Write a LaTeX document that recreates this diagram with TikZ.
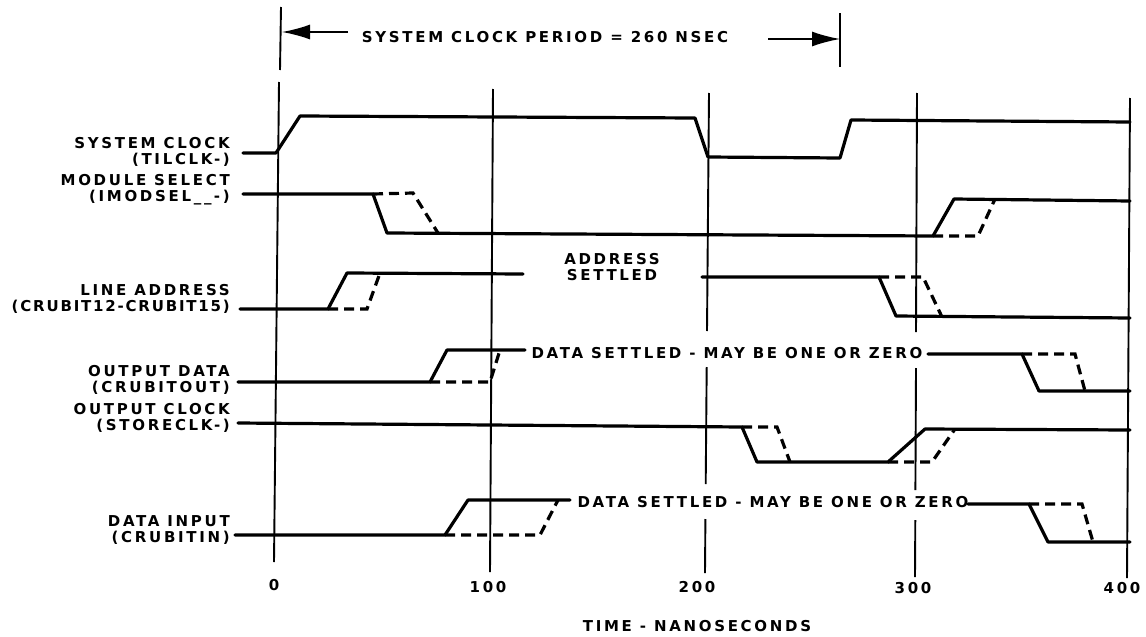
\documentclass[tikz,border=0pt]{standalone}
\usepackage{fontspec}
\newfontfamily\lbl[LetterSpace=18]{DejaVu Sans}
\newfontfamily\lbltight[LetterSpace=12]{DejaVu Sans}
\usetikzlibrary{arrows.meta}
\begin{document}
\begin{tikzpicture}[x=1pt,y=-1pt,
  wave/.style={line width=3.2pt, line join=round, line cap=round},
  dwave/.style={line width=3.2pt, dash pattern=on 10pt off 6pt},
  gridl/.style={line width=1.9pt},
  txt/.style={font=\lbl\bfseries\fontsize{15}{16}\selectfont, inner sep=0pt},
  sig/.style={txt, align=right, anchor=east},
  tip/.style={-{Latex[length=28pt,width=15pt]}, line width=1.6pt}]
\useasboundingbox (0,0) rectangle (1146,637);

% ---- grid lines
\draw[gridl] (281,7) -- (280,70);
\draw[gridl] (279,82) -- (274,562);
\draw[gridl] (493,89) -- (490,572);
\draw[gridl] (709,93) -- (707,331);
\draw[gridl] (706.7,367) -- (705.7,484);
\draw[gridl] (705.4,519) -- (705,573);
\draw[gridl] (917,93) -- (916,332);
\draw[gridl] (916,368) -- (915.4,490);
\draw[gridl] (915.3,520) -- (915,577);
\draw[gridl] (1130,98) -- (1127,578);
\draw[gridl] (840,13) -- (840,67);

% ---- period arrow
\node[txt] (period) at (545,37) {SYSTEM CLOCK PERIOD = 260 NSEC};
\coordinate (la) at (348,32);
\coordinate (lt) at (282,32);
\coordinate (ra) at (768,39);
\coordinate (rt) at (840,39);
\draw[tip] (la) -- (lt);
\draw[tip] (ra) -- (rt);

% ---- signal names
\node[sig] (n1) at (230,152) {SYSTEM CLOCK\\(TILCLK-)};
\node[sig] (n2) at (230,190) {MODULE SELECT\\(IMODSEL\_\_\,-)};
\node[sig] (n3) at (230,299) {LINE ADDRESS\\{\lbltight(CRUBIT12-CRUBIT15)}};
\node[sig] (n4) at (230,380) {OUTPUT DATA\\(CRUBITOUT)};
\node[sig] (n5) at (230,418) {OUTPUT CLOCK\\(STORECLK-)};
\node[sig] (n6) at (230,530) {DATA INPUT\\(CRUBITIN)};

% ---- system clock
\draw[wave] (243,153) -- (276,153) -- (300,116) -- (695,118) -- (708,157)
  -- (840,158) -- (851,120) -- (1130,122);

% ---- module select
\draw[wave] (243,194) -- (373,194) -- (387,233) -- (933,236) -- (954,199) -- (1130,201);
\draw[dwave] (373,194) -- (413,193) -- (438,233);
\draw[dwave] (933,236) -- (978,236) -- (995,199);

% ---- line address
\draw[wave] (240,309) -- (328,309) -- (347,273) -- (523,274);
\draw[wave] (702,277) -- (879,277) -- (896,316) -- (1130,318);
\draw[dwave] (328,309) -- (367,309) -- (380,273);
\draw[dwave] (879,277) -- (923,277) -- (942,317);
\node[txt, align=center] (as) at (612,267) {ADDRESS\\SETTLED};

% ---- output data
\draw[wave] (238,382) -- (430,382) -- (447,350) -- (525,350);
\draw[wave] (928,354) -- (1022,354) -- (1039,391) -- (1130,391);
\draw[dwave] (430,382) -- (490,382) -- (500,350);
\draw[dwave] (1022,354) -- (1075,354) -- (1085,391);
\node[txt] (ds1) at (727,353) {DATA SETTLED - MAY BE ONE OR ZERO};

% ---- output clock
\draw[wave] (238,423) -- (742,427) -- (757,462) -- (888,462) -- (925,429) -- (1130,430);
\draw[dwave] (742,427) -- (777,427) -- (790,462);
\draw[dwave] (888,462) -- (932,462) -- (955,429);

% ---- data input
\draw[wave] (235,535) -- (445,535) -- (468,500) -- (570,500);
\draw[wave] (968,504) -- (1029,504) -- (1048,542) -- (1130,542);
\draw[dwave] (445,535) -- (540,535) -- (558,500);
\draw[dwave] (1029,504) -- (1082,504) -- (1093,542);
\node[txt] (ds2) at (773,502) {DATA SETTLED - MAY BE ONE OR ZERO};

% ---- axis
\node[txt] (t0) at (274,585) {0};
\node[txt] (t100) at (488,587) {100};
\node[txt] (t200) at (697,587) {200};
\node[txt] (t300) at (913,588) {300};
\node[txt] (t400) at (1122,588) {400};
\node[txt] (xl) at (697,626) {TIME - NANOSECONDS};
\end{tikzpicture}
\end{document}
